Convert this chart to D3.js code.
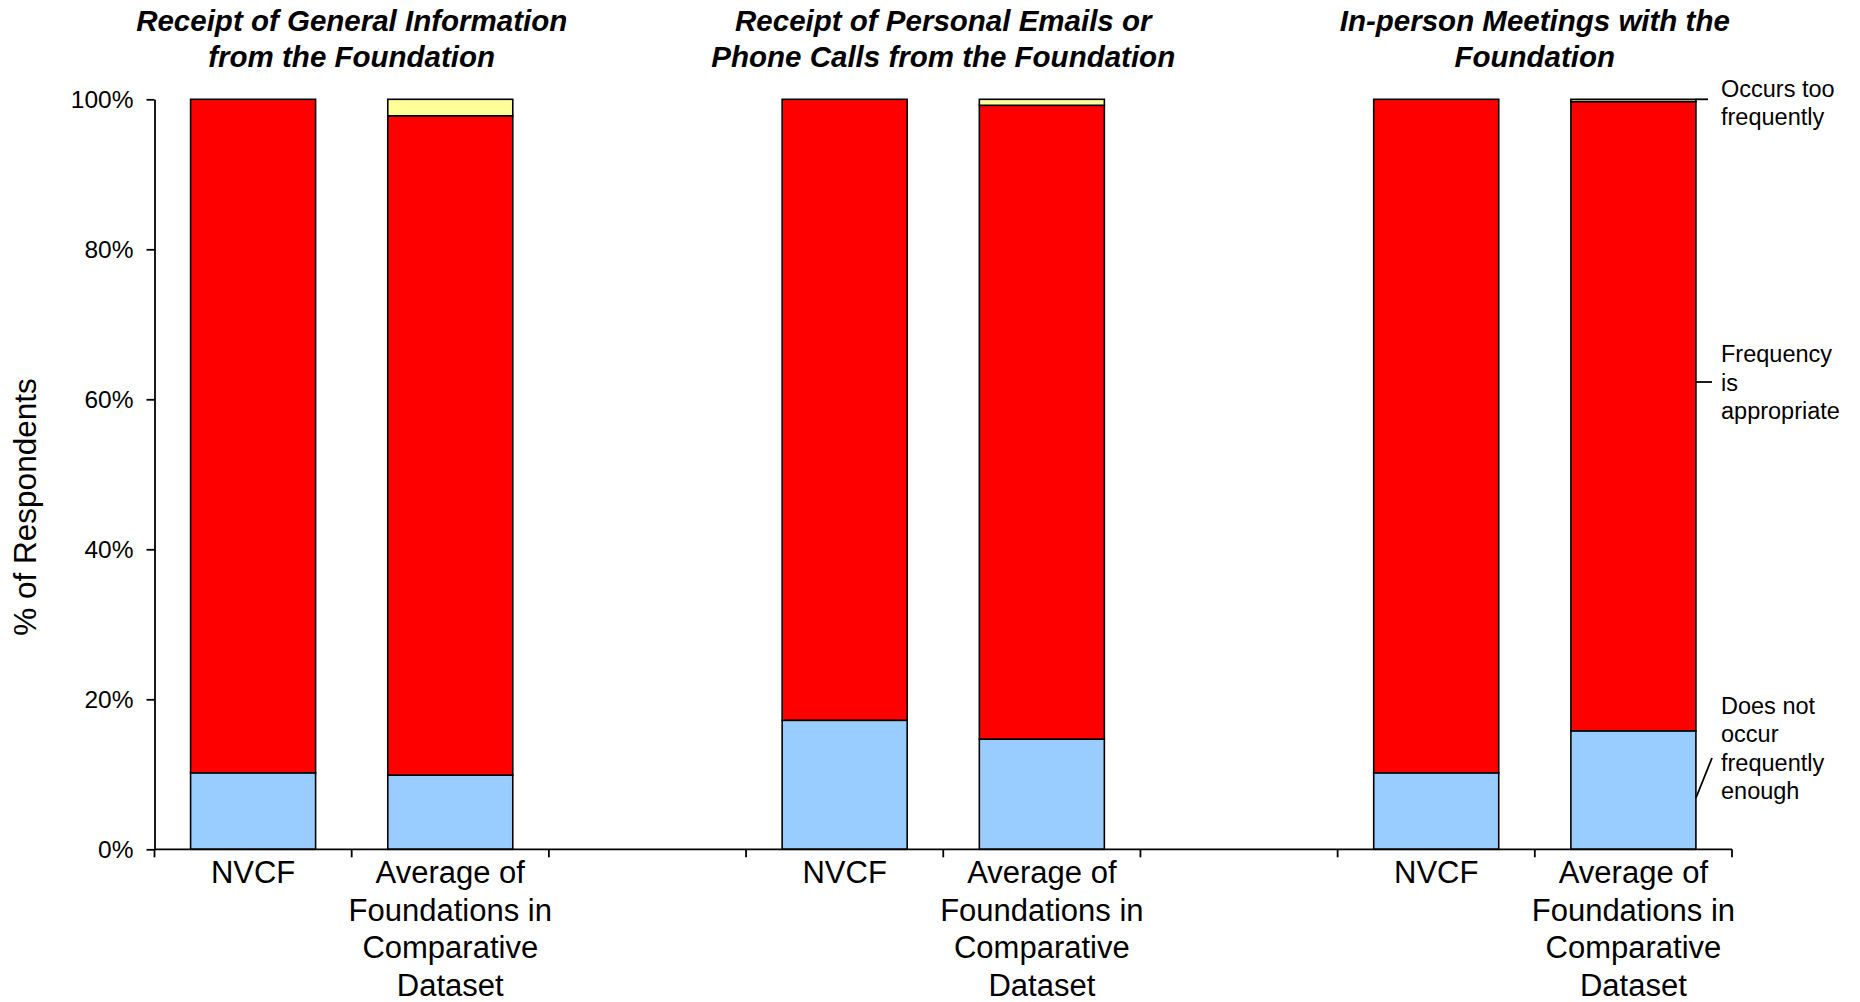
<!DOCTYPE html>
<html>
<head>
<meta charset="utf-8">
<script src="https://cdn.jsdelivr.net/npm/d3@7"></script>
<style>
  html, body { margin: 0; padding: 0; background: #fff; }
  svg { display: block; font-family: "Liberation Sans", Arial, sans-serif; }
</style>
</head>
<body>
<svg id="chart" width="1860" height="1002"></svg>
<script>
// ---- data ----
const groupTitles = [
  ["Receipt of General Information", "from the Foundation"],
  ["Receipt of Personal Emails or", "Phone Calls from the Foundation"],
  ["In-person Meetings with the", "Foundation"]
];
const categories = ["NVCF", "Average of Foundations in Comparative Dataset"];
const categoryLines = [["NVCF"], ["Average of", "Foundations in", "Comparative", "Dataset"]];
const seriesNames = ["Does not occur frequently enough", "Frequency is appropriate", "Occurs too frequently"];
// values per bar: [g0 NVCF, g0 Avg, g1 NVCF, g1 Avg, g2 NVCF, g2 Avg]
const notEnough   = [10.2, 9.9, 17.2, 14.7, 10.2, 15.8];
const appropriate = [89.8, 87.9, 82.8, 84.5, 89.8, 83.9];
const tooOften    = [0.0, 2.2, 0.0, 0.8, 0.0, 0.3];
const yTicks = [0, 20, 40, 60, 80, 100];
const legendLines = [["Occurs too", "frequently"], ["Frequency", "is", "appropriate"], ["Does not", "occur", "frequently", "enough"]];

// ---- build slots ----
const slots = [];
groupTitles.forEach((g, gi) => {
  categories.forEach((c, ci) => slots.push({key: "g" + gi + "c" + ci, group: gi, cat: ci, idx: gi * 2 + ci}));
  if (gi < groupTitles.length - 1) slots.push({key: "gap" + gi, gap: true});
});
const bars = slots.filter(s => !s.gap);
const rows = bars.map(b => ({key: b.key, group: b.group, cat: b.cat,
  notEnough: notEnough[b.idx], appropriate: appropriate[b.idx], tooOften: tooOften[b.idx]}));

const colors = {notEnough: "#99CCFF", appropriate: "#FF0000", tooOften: "#FFFF99"};
const keys = ["notEnough", "appropriate", "tooOften"];

const svg = d3.select("#chart");
const x0 = 154.5, x1 = 1732;
const x = d3.scaleBand().domain(slots.map(s => s.key)).range([x0, x1])
  .paddingInner(0.366).paddingOuter(0.183);
const y = d3.scaleLinear().domain([0, 100]).range([849.3, 99.3]);

// ---- bars ----
const stack = d3.stack().keys(keys)(rows);
const layer = svg.append("g").selectAll("g").data(stack).join("g")
  .attr("fill", d => colors[d.key]);
layer.selectAll("rect").data(d => d.filter(p => p[1] - p[0] > 0)).join("rect")
  .attr("x", d => x(d.data.key))
  .attr("width", x.bandwidth())
  .attr("y", d => y(d[1]))
  .attr("height", d => y(d[0]) - y(d[1]))
  .attr("stroke", "#000").attr("stroke-width", 1.6);

// ---- y axis ----
const yAxis = svg.append("g").attr("transform", `translate(${x0},0)`)
  .call(d3.axisLeft(y).tickValues(yTicks).tickFormat(d => d + "%").tickSize(8).tickSizeOuter(0).tickPadding(13));
yAxis.select(".domain").attr("stroke", "#000").attr("stroke-width", 1.8);
yAxis.selectAll(".tick line").attr("stroke", "#000").attr("stroke-width", 1.8);
yAxis.selectAll(".tick text").attr("font-size", 24.5).attr("fill", "#000")
  .attr("font-family", "'Liberation Sans', Arial, sans-serif");

// ---- x axis ----
const xg = svg.append("g");
xg.append("line").attr("x1", x0).attr("x2", x1).attr("y1", y(0)).attr("y2", y(0))
  .attr("stroke", "#000").attr("stroke-width", 1.8);
const boundaries = d3.range(slots.length + 1).map(i => x0 + i * x.step());
xg.selectAll("line.tk").data(boundaries).join("line").attr("class", "tk")
  .attr("x1", d => d).attr("x2", d => d).attr("y1", y(0)).attr("y2", y(0) + 8)
  .attr("stroke", "#000").attr("stroke-width", 1.8);

// category labels
const catLabels = svg.append("g").attr("font-size", 31).attr("text-anchor", "middle").attr("fill", "#000");
bars.forEach(b => {
  const t = catLabels.append("text");
  categoryLines[b.cat].forEach((ln, i) => {
    t.append("tspan").attr("x", x(b.key) + x.bandwidth() / 2).attr("y", 883 + i * 37.5).text(ln);
  });
});

// group titles
const titles = svg.append("g").attr("font-size", 29.5).attr("font-weight", "bold").attr("font-style", "italic")
  .attr("text-anchor", "middle").attr("fill", "#000");
groupTitles.forEach((g, gi) => {
  const a = x("g" + gi + "c0") - x.step() * 0.183;
  const bEnd = x("g" + gi + "c1") + x.bandwidth() + x.step() * 0.183;
  const cx = (a + bEnd) / 2;
  const t = titles.append("text");
  g.forEach((ln, i) => t.append("tspan").attr("x", cx).attr("y", 31 + i * 36).text(ln));
});

// y axis title
svg.append("text").attr("transform", "translate(36,507) rotate(-90)")
  .attr("text-anchor", "middle").attr("font-size", 31.5).attr("fill", "#000").text("% of Respondents");

// ---- legend labels with leaders (Excel-style series labels on last bar) ----
const last = bars[bars.length - 1].key;
const bx = x(last) + x.bandwidth();
const lx = 1721;
const leg = svg.append("g").attr("font-size", 23.5).attr("fill", "#000");
const legendSpec = [
  {lines: legendLines[0], base: 96.5, from: [bx, y(100)], to: [1708, y(100)]},
  {lines: legendLines[1], base: 362, from: [bx, 382], to: [1712, 382]},
  {lines: legendLines[2], base: 713.5, from: [bx, 798], to: [1712, 758]}
];
legendSpec.forEach(s => {
  leg.append("line").attr("x1", s.from[0]).attr("y1", s.from[1]).attr("x2", s.to[0]).attr("y2", s.to[1])
    .attr("stroke", "#000").attr("stroke-width", 1.8);
  const t = leg.append("text");
  s.lines.forEach((ln, i) => t.append("tspan").attr("x", lx).attr("y", s.base + i * 28.5).text(ln));
});
</script>
</body>
</html>
